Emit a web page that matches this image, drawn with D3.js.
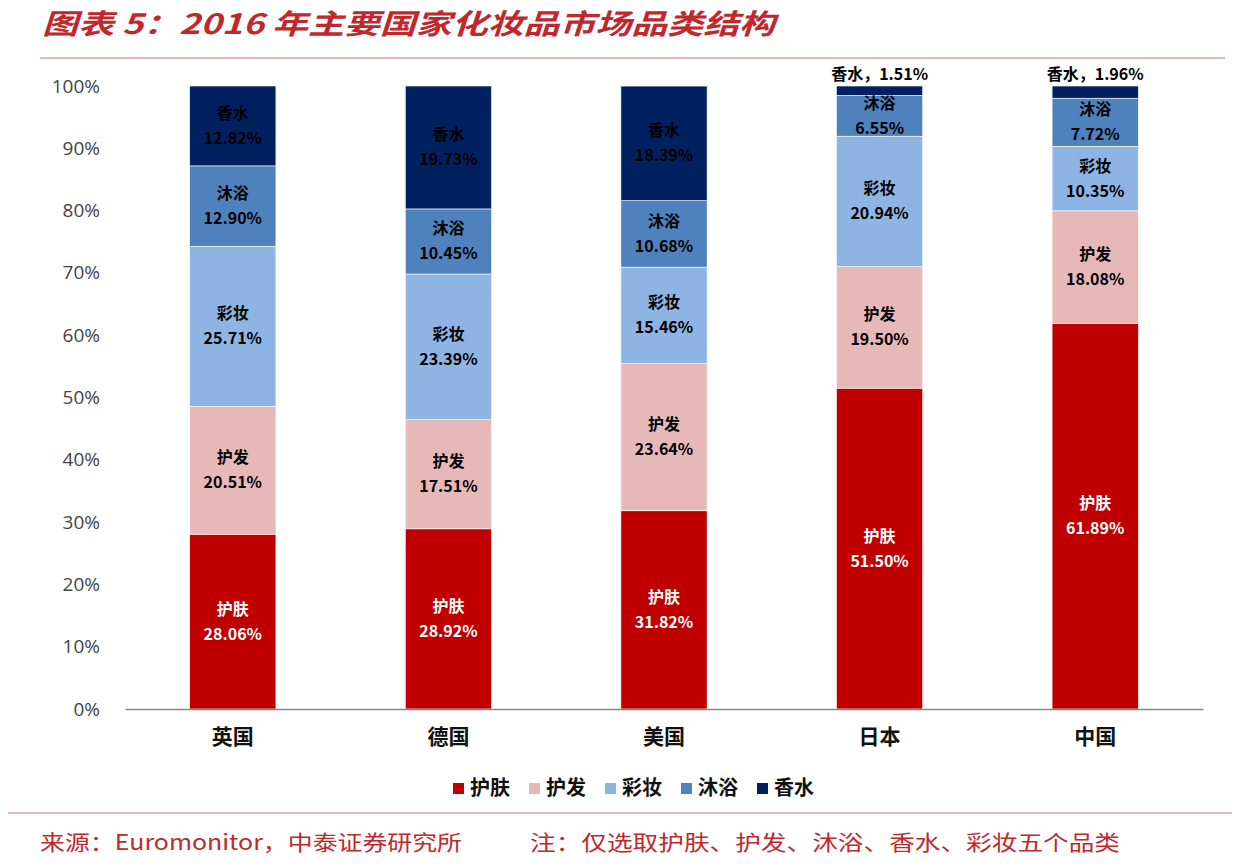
<!DOCTYPE html>
<html><head><meta charset="utf-8">
<script src="https://cdn.jsdelivr.net/npm/d3@7"></script>
<style>body{margin:0;background:#fff;}svg{display:block;}</style>
</head><body>
<svg id="c" width="1240" height="864"></svg>
<script>
const countries = ["英国","德国","美国","日本","中国"];
const seriesNames = ["护肤","护发","彩妆","沐浴","香水"];
const skin = [28.06, 28.92, 31.82, 51.50, 61.89];
const hair = [20.51, 17.51, 23.64, 19.50, 18.08];
const makeup = [25.71, 23.39, 15.46, 20.94, 10.35];
const bath = [12.90, 10.45, 10.68, 6.55, 7.72];
const perfume = [12.82, 19.73, 18.39, 1.51, 1.96];
const colors = ["#c00000","#e6b9b8","#8eb4e3","#4f81bd","#002060"];
const yTicks = [0,10,20,30,40,50,60,70,80,90,100];

const seriesVals = [skin, hair, makeup, bath, perfume];
const rows = countries.map((c,i)=>{const o={country:c}; seriesNames.forEach((s,j)=>o[s]=seriesVals[j][i]); return o;});
const stacked = d3.stack().keys(seriesNames)(rows);

const svg = d3.select("#c");
const cjk = "'Noto Sans CJK SC','Noto Sans',sans-serif";

// title
svg.append("text").attr("x",42).attr("y",34).attr("fill","#c0282d")
  .attr("font-family",cjk).attr("font-size",28).attr("font-weight","bold").attr("font-style","italic")
  .attr("textLength",733).attr("lengthAdjust","spacingAndGlyphs")
  .text("图表 5：2016 年主要国家化妆品市场品类结构");
svg.append("line").attr("x1",40).attr("x2",1225).attr("y1",58).attr("y2",58).attr("stroke","#e0a0a0").attr("stroke-width",1.5);
svg.append("line").attr("x1",8).attr("x2",1232).attr("y1",813).attr("y2",813).attr("stroke","#e0a0a0").attr("stroke-width",1.5);

const x = d3.scaleBand().domain(countries).range([125,1203]).paddingInner(0.6).paddingOuter(0.3);
const y = d3.scaleLinear().domain([0,100]).range([709,86]);

// y axis
const yAx = svg.append("g").attr("transform","translate(103,0)")
  .call(d3.axisLeft(y).tickValues(yTicks).tickFormat(d=>d+"%").tickSize(0));
yAx.select(".domain").remove();
yAx.selectAll("text").attr("font-family","'Open Sans','DejaVu Sans',sans-serif").attr("font-size",19).attr("fill","#444");

// bars
const g = svg.append("g");
stacked.forEach((layer,j)=>{
  g.selectAll(null).data(layer).enter().append("rect")
    .attr("x",d=>x(d.data.country)).attr("width",x.bandwidth())
    .attr("y",d=>y(d[1])).attr("height",d=>y(d[0])-y(d[1]))
    .attr("fill",colors[j]).attr("stroke","#fff").attr("stroke-width",0.6);
});

// x axis
const xAx = svg.append("g").attr("transform","translate(0,709)")
  .call(d3.axisBottom(x).tickSize(0).tickPadding(20));
xAx.select(".domain").attr("stroke","#888").attr("stroke-width",1.5);
xAx.selectAll("text").attr("font-family",cjk).attr("font-size",21).attr("font-weight","bold").attr("fill","#111");

// labels
stacked.forEach((layer,j)=>{
  layer.forEach((d,i)=>{
    const v = d[1]-d[0];
    const cx = x(d.data.country)+x.bandwidth()/2;
    const fill = j===0 ? "#fff" : "#000";
    if (v < 3) {
      svg.append("text").attr("x",cx).attr("y",y(d[1])-6).attr("text-anchor","middle")
        .attr("font-family",cjk).attr("font-size",16).attr("font-weight","bold").attr("fill","#000")
        .text(seriesNames[j]+"，"+v.toFixed(2)+"%");
    } else {
      const cy = (y(d[0])+y(d[1]))/2;
      svg.append("text").attr("x",cx).attr("y",cy-7).attr("text-anchor","middle")
        .attr("font-family",cjk).attr("font-size",16).attr("font-weight","bold").attr("fill",fill)
        .text(seriesNames[j]);
      svg.append("text").attr("x",cx).attr("y",cy+18).attr("text-anchor","middle")
        .attr("font-family",cjk).attr("font-size",16).attr("font-weight","bold").attr("fill",fill)
        .text(seriesVals[j][i].toFixed(2)+"%");
    }
  });
});

// legend
const lg = svg.append("g").attr("transform","translate(453,790)");
seriesNames.forEach((s,j)=>{
  const gx = j*76;
  lg.append("rect").attr("x",gx).attr("y",-7).attr("width",11).attr("height",11).attr("fill",colors[j]);
  lg.append("text").attr("x",gx+17).attr("y",0).attr("dominant-baseline","middle")
    .attr("font-family",cjk).attr("font-size",20).attr("font-weight","bold").attr("fill","#111").text(s);
});

// footer
svg.append("text").attr("x",40).attr("y",850).attr("fill","#c0282d").attr("font-family",cjk).attr("font-size",21)
  .attr("textLength",422).attr("lengthAdjust","spacingAndGlyphs")
  .text("来源：Euromonitor，中泰证券研究所");
svg.append("text").attr("x",530).attr("y",850).attr("fill","#c0282d").attr("font-family",cjk).attr("font-size",21)
  .attr("textLength",590).attr("lengthAdjust","spacingAndGlyphs")
  .text("注：仅选取护肤、护发、沐浴、香水、彩妆五个品类");
</script>
</body></html>
